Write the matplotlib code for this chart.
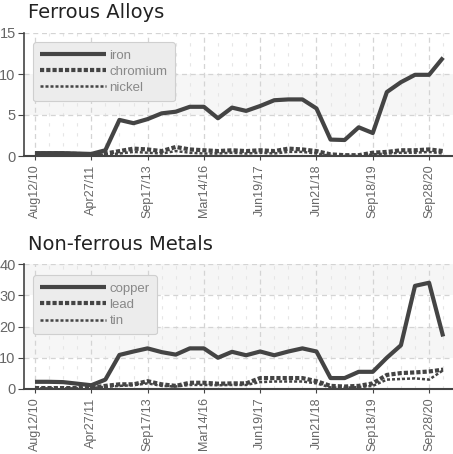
import matplotlib
matplotlib.use("Agg")
import matplotlib.pyplot as plt
import numpy as np
from matplotlib import font_manager

tick_labels = ["Aug12/10", "Apr27/11", "Sep17/13", "Mar14/16", "Jun19/17", "Jun21/18", "Sep18/19", "Sep28/20"]
tick_every = 4

iron = [0.35, 0.35, 0.35, 0.3, 0.25, 0.7, 4.4, 4.0, 4.5, 5.2, 5.4, 6.0, 6.0, 4.6, 5.9,
        5.5, 6.1, 6.8, 6.9, 6.9, 5.8, 2.0, 1.95, 3.5, 2.8, 7.8, 9.0, 9.9, 9.9, 12.0]
chromium = [0.3, 0.3, 0.3, 0.25, 0.2, 0.3, 0.6, 0.9, 0.8, 0.6, 1.1, 0.8, 0.7, 0.6, 0.7,
            0.6, 0.7, 0.6, 0.9, 0.8, 0.6, 0.2, 0.1, 0.1, 0.4, 0.5, 0.7, 0.7, 0.8, 0.6]
nickel = [0.1, 0.1, 0.1, 0.1, 0.1, 0.2, 0.3, 0.5, 0.4, 0.3, 0.6, 0.4, 0.3, 0.3, 0.4,
          0.3, 0.4, 0.3, 0.5, 0.5, 0.3, 0.0, 0.0, 0.0, 0.2, 0.3, 0.4, 0.4, 0.5, 0.3]

copper = [2.3, 2.3, 2.2, 1.7, 1.2, 3.0, 10.9, 12.0, 13.0, 11.8, 11.0, 13.0, 13.0, 10.0, 11.9,
          10.8, 12.0, 10.8, 12.0, 13.0, 12.0, 3.5, 3.5, 5.5, 5.5, 10.0, 14.0, 33.0, 34.0, 16.8]
lead = [0.3, 0.3, 0.3, 0.3, 0.4, 1.0, 1.5, 1.5, 2.5, 1.5, 1.0, 2.0, 2.0, 1.7, 1.8,
        1.8, 3.5, 3.5, 3.5, 3.5, 2.5, 1.0, 0.8, 1.0, 1.8, 4.5, 5.1, 5.3, 5.6, 6.2]
tin = [0.2, 0.2, 0.2, 0.2, 0.3, 0.7, 1.0, 1.2, 1.8, 1.0, 0.8, 1.3, 1.3, 1.2, 1.3,
       1.3, 2.2, 2.4, 2.4, 2.4, 1.8, 0.5, 0.4, 0.6, 1.0, 3.0, 3.2, 3.4, 3.0, 6.0]

names = {f.name for f in font_manager.fontManager.ttflist}
cond = "Liberation Sans Narrow" if "Liberation Sans Narrow" in names else "Liberation Sans"
fam = [cond, "DejaVu Sans"]

W, H = 453, 454
fig = plt.figure(figsize=(W / 100, H / 100), dpi=100)

line_col = "#444444"
styles = [dict(lw=3.0, ls="-"), dict(lw=3.0, ls=(0, (1, 0.5))), dict(lw=1.8, ls=(0, (1.2, 0.8)))]

def panel(rect, title, series, labels, ymax, ystep, title_y, leg_top):
    ax = fig.add_axes(rect)
    n = len(series[0])
    x = np.arange(n)
    ax.set_xlim(-0.78, 29.7)
    ax.set_ylim(0, ymax)
    for k, y0 in enumerate(np.arange(0, ymax, ystep)):
        if k % 2 == 1:
            ax.axhspan(y0, y0 + ystep, color="#f6f6f6", zorder=0, lw=0)
    ax.set_yticks(np.arange(0, ymax + 0.1, ystep))
    ax.set_xticks(x[::tick_every])
    ax.set_xticklabels(tick_labels, rotation=90, family=fam, fontsize=9, color="#666666")
    ax.set_xticks(x, minor=True)
    for lab in ax.get_yticklabels():
        lab.set_family(fam)
        lab.set_fontsize(10.5)
        lab.set_color("#666666")
    ax.grid(True, which="major", ls=(0, (4, 3)), color="#d4d4d4", lw=0.9, zorder=1)
    ax.grid(True, which="minor", axis="x", ls=(0, (3, 6)), color="#e6e6e6", lw=0.8, zorder=1)
    ax.tick_params(axis="x", which="minor", length=0)
    ax.tick_params(axis="x", which="major", length=3, color="#444444", pad=3)
    ax.tick_params(axis="y", length=4, color="#444444", pad=2)
    for s in ["top", "right"]:
        ax.spines[s].set_visible(False)
    ax.spines["left"].set_color("#444444")
    ax.spines["bottom"].set_color("#444444")
    ax.spines["left"].set_linewidth(1.2)
    ax.spines["bottom"].set_linewidth(1.5)
    for vals, lab, st in zip(series, labels, styles):
        ax.plot(x, vals, color=line_col, label=lab, zorder=3, solid_capstyle="butt", **st)
    leg = ax.legend(loc="upper left", bbox_to_anchor=(9 / 429, leg_top), borderaxespad=0,
                    handlelength=5.0, handletextpad=0.25, labelspacing=0.3, borderpad=0.55,
                    fancybox=True, facecolor="#ececec", edgecolor="#cfcfcf", framealpha=1.0,
                    prop={"family": fam, "size": 9.5})
    for t in leg.get_texts():
        t.set_color("#888888")
    leg.get_frame().set_linewidth(0.8)
    fig.text(28 / W, 1 - title_y / H, title, fontsize=14, color="#222222", va="center", ha="left")
    return ax

left = 24 / W
width = (W - 24) / W
panel([left, 1 - 156 / H, width, 123 / H], "Ferrous Alloys", [iron, chromium, nickel],
      ["iron", "chromium", "nickel"], 15, 5, 12, 0.925)
panel([left, 1 - 389 / H, width, 125 / H], "Non-ferrous Metals", [copper, lead, tin],
      ["copper", "lead", "tin"], 40, 10, 245, 0.91)

fig.savefig("out.png", dpi=100)
